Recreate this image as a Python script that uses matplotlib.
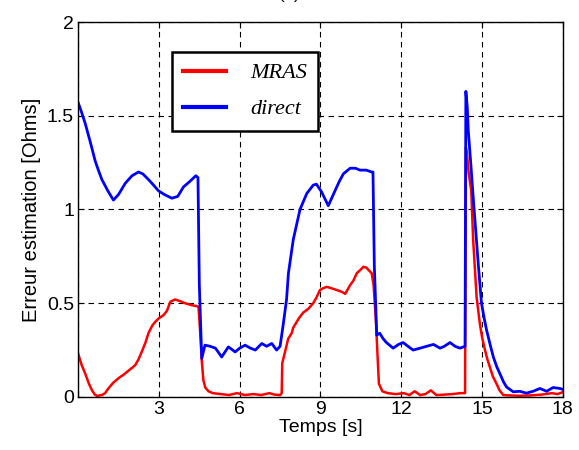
import matplotlib.pyplot as plt

# temps [s] et erreur [Ohms]
t_mras = [0.0, 0.13, 0.26, 0.4, 0.51, 0.62, 0.70, 0.80, 0.88, 1.0, 1.12, 1.3, 1.5, 1.7, 1.87, 2.0,
          2.12, 2.24, 2.36, 2.5, 2.61, 2.75, 2.86, 3.0, 3.17, 3.3, 3.42, 3.6, 3.8, 3.97, 4.2,
          4.41, 4.47, 4.53, 4.59, 4.65, 4.72, 4.84, 5.0, 5.3, 5.6, 5.9, 6.2, 6.5, 6.8, 7.1,
          7.3, 7.50, 7.56, 7.58, 7.7, 7.8, 7.93, 7.99, 8.2, 8.36, 8.55, 8.73, 8.85, 8.98,
          9.1, 9.23, 9.4, 9.61, 9.8, 9.92, 10.1, 10.22, 10.35, 10.5, 10.59, 10.7, 10.9,
          10.97, 11.05, 11.17, 11.3, 11.5, 11.8, 12.1, 12.3, 12.5, 12.7, 12.9, 13.1, 13.3,
          13.6, 13.9, 14.2, 14.37, 14.40, 14.44, 14.5, 14.6, 14.67, 14.8, 14.92, 15.0,
          15.11, 15.2, 15.29, 15.4, 15.54, 15.65, 15.79, 16.0, 16.4, 16.8, 17.2, 17.6, 17.8, 18.0]
e_mras = [0.23, 0.17, 0.125, 0.07, 0.036, 0.012, 0.005, 0.008, 0.01, 0.02, 0.045, 0.075, 0.10,
          0.12, 0.14, 0.155, 0.17, 0.20, 0.24, 0.29, 0.34, 0.38, 0.40, 0.42, 0.436, 0.46,
          0.507, 0.52, 0.51, 0.50, 0.49, 0.484, 0.48, 0.35, 0.196, 0.09, 0.05, 0.03, 0.02,
          0.015, 0.01, 0.02, 0.01, 0.015, 0.01, 0.02, 0.012, 0.01, 0.02, 0.18, 0.25, 0.31,
          0.34, 0.37, 0.42, 0.45, 0.47, 0.50, 0.53, 0.57, 0.58, 0.587, 0.58, 0.57, 0.56,
          0.55, 0.596, 0.62, 0.66, 0.68, 0.694, 0.69, 0.66, 0.60, 0.43, 0.07, 0.03, 0.02,
          0.015, 0.02, 0.01, 0.03, 0.01, 0.015, 0.035, 0.01, 0.012, 0.015, 0.02, 0.02,
          1.33, 1.30, 1.20, 1.10, 0.84, 0.53, 0.39, 0.32, 0.25, 0.20, 0.16, 0.11, 0.07,
          0.035, 0.01, 0.008, 0.006, 0.008, 0.012, 0.02, 0.015, 0.025]

t_direct = [0.0, 0.1, 0.26, 0.45, 0.63, 0.75, 0.88, 1.1, 1.31, 1.5, 1.75, 2.0, 2.24, 2.4, 2.61,
            2.8, 2.98, 3.2, 3.48, 3.7, 3.91, 4.15, 4.37, 4.45, 4.5, 4.59, 4.71, 4.9, 5.1,
            5.33, 5.58, 5.83, 6.0, 6.2, 6.4, 6.58, 6.82, 7.0, 7.19, 7.37, 7.50, 7.62, 7.74,
            7.81, 7.99, 8.24, 8.49, 8.73, 8.85, 9.04, 9.29, 9.54, 9.7, 9.85, 10.1, 10.3,
            10.47, 10.7, 10.90, 10.95, 11.0, 11.09, 11.2, 11.33, 11.45, 11.70, 11.9, 12.07,
            12.25, 12.44, 12.7, 12.94, 13.2, 13.44, 13.6, 13.81, 14.0, 14.18, 14.37, 14.40,
            14.45, 14.49, 14.58, 14.67, 14.86, 14.98, 15.08, 15.17, 15.3, 15.42, 15.55,
            15.66, 15.8, 15.91, 16.16, 16.4, 16.65, 16.9, 17.15, 17.4, 17.64, 17.89, 18.0]
e_direct = [1.57, 1.53, 1.46, 1.36, 1.26, 1.21, 1.16, 1.10, 1.05, 1.08, 1.14, 1.18, 1.20, 1.19,
            1.16, 1.13, 1.10, 1.08, 1.06, 1.07, 1.12, 1.15, 1.18, 1.17, 0.60, 0.205, 0.276,
            0.27, 0.26, 0.213, 0.267, 0.24, 0.26, 0.276, 0.26, 0.25, 0.285, 0.27, 0.285,
            0.25, 0.27, 0.39, 0.52, 0.66, 0.84, 1.00, 1.085, 1.13, 1.135, 1.094, 1.02, 1.10,
            1.15, 1.19, 1.22, 1.22, 1.21, 1.21, 1.20, 1.20, 0.70, 0.33, 0.34, 0.31, 0.29,
            0.26, 0.28, 0.29, 0.27, 0.25, 0.26, 0.27, 0.28, 0.26, 0.27, 0.29, 0.27, 0.26,
            0.27, 1.63, 1.55, 1.42, 1.25, 1.07, 0.71, 0.50, 0.42, 0.356, 0.28, 0.213, 0.16,
            0.125, 0.08, 0.053, 0.027, 0.03, 0.02, 0.03, 0.045, 0.03, 0.05, 0.045, 0.04]

xticks = [0, 3, 6, 9, 12, 15, 18]
xlabels = ['', '3', '6', '9', '12', '15', '18']
yticks = [0, 0.5, 1, 1.5, 2]
ylabels = ['0', '0.5', '1', '1.5', '2']

plt.rcParams['font.family'] = ['Liberation Sans', 'DejaVu Sans']

fig = plt.figure(figsize=(5.79, 4.5), dpi=100)
ax = fig.add_axes([0.135, 0.118, 0.837, 0.833])

ax.plot(t_mras, e_mras, color='#ff0000', lw=1.8, label='MRAS')
ax.plot(t_direct, e_direct, color='#0000ff', lw=2.0, label='direct')

ax.set_xlim(0, 18)
ax.set_ylim(0, 2)
ax.set_xticks(xticks)
ax.set_xticklabels(xlabels)
ax.set_yticks(yticks)
ax.set_yticklabels(ylabels)
ax.tick_params(direction='in', top=True, right=True, labelsize=14, length=4, width=0.8, pad=3)
ax.grid(True, color='black', linestyle=(0, (5, 4)), linewidth=0.8)
for s in ax.spines.values():
    s.set_linewidth(1.0)

ax.set_xlabel('Temps [s]', fontsize=14, labelpad=1)
ax.set_ylabel('Erreur estimation [Ohms]', fontsize=14.5, labelpad=4)

leg = ax.legend(loc='upper left', bbox_to_anchor=(0.194, 0.921), borderaxespad=0,
                fancybox=False,
                prop={'family': 'Liberation Serif', 'style': 'italic', 'size': 16},
                handlelength=1.9, handletextpad=1.1, labelspacing=0.7,
                borderpad=0.5, framealpha=1)
leg.get_frame().set_edgecolor('black')
leg.get_frame().set_linewidth(1.8)
for line in leg.get_lines():
    line.set_linewidth(3)

fig.text(0.5, 1.0 - 2 / 450, '(a)', ha='center', va='bottom', fontsize=12)

fig.savefig('out.png', dpi=100)
